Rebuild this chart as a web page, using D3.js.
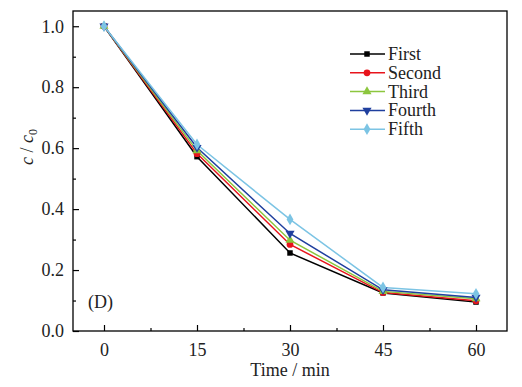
<!DOCTYPE html>
<html><head><meta charset="utf-8">
<script src="https://cdn.jsdelivr.net/npm/d3@7"></script>
<style>body{margin:0;background:#fff}svg text{font-family:"Liberation Serif","Times New Roman",serif}</style>
</head><body><svg id="c" width="522" height="387"></svg>
<script>
const times = [0, 15, 30, 45, 60];
const seriesNames = ["First", "Second", "Third", "Fourth", "Fifth"];
const first  = [1.0, 0.572, 0.256, 0.125, 0.095];
const second = [1.0, 0.582, 0.284, 0.126, 0.099];
const third  = [1.0, 0.592, 0.298, 0.130, 0.106];
const fourth = [1.0, 0.602, 0.320, 0.135, 0.110];
const fifth  = [1.0, 0.612, 0.366, 0.143, 0.122];
const colors = ["#000000", "#e8141c", "#8cc63e", "#1f3f9e", "#7cc4e4"];
const symbolsList = [d3.symbolSquare, d3.symbolCircle, d3.symbolTriangle, "tri-down", d3.symbolDiamond];
const xTicks = [0, 15, 30, 45, 60];
const yTicks = [0, 0.2, 0.4, 0.6, 0.8, 1.0];

const allSeries = [first, second, third, fourth, fifth];
const svg = d3.select("#c");
const L = 73, R = 507, T = 11, B = 331;
const x = d3.scaleLinear().domain([-5, 65]).range([L, R]);
const y = d3.scaleLinear().domain([0, 1.05]).range([B, T]);

svg.append("rect").attr("x", L).attr("y", T).attr("width", R - L).attr("height", B - T)
  .attr("fill", "none").attr("stroke", "#000").attr("stroke-width", 1.3);

svg.append("g").attr("transform", `translate(0,${B})`)
  .call(d3.axisBottom(x).tickValues(xTicks).tickSize(-6).tickPadding(12).tickFormat(d3.format("d")));
svg.append("g").attr("transform", `translate(0,${B})`)
  .call(d3.axisBottom(x).tickValues([7.5, 22.5, 37.5, 52.5]).tickSize(-3).tickFormat(""));
svg.append("g").attr("transform", `translate(${L},0)`)
  .call(d3.axisLeft(y).tickValues(yTicks).tickSize(-6).tickPadding(9).tickFormat(d3.format(".1f")));
svg.append("g").attr("transform", `translate(${L},0)`)
  .call(d3.axisLeft(y).tickValues([0.1, 0.3, 0.5, 0.7, 0.9]).tickSize(-3).tickFormat(""));
svg.selectAll(".domain").remove();
svg.selectAll(".tick line").attr("stroke", "#000").attr("stroke-width", 1.2);
svg.selectAll(".tick text").attr("font-size", 18).attr("fill", "#222")
  .style("font-family", '"Liberation Serif", serif');

svg.append("text").attr("x", (x(0) + x(60)) / 2).attr("y", 376).attr("text-anchor", "middle")
  .attr("font-size", 18).attr("fill", "#222").text("Time / min");
const yl = svg.append("text").attr("transform", `translate(33,147) rotate(-90)`)
  .attr("text-anchor", "middle").attr("font-size", 18).attr("fill", "#222");
yl.append("tspan").attr("font-style", "italic").text("c");
yl.append("tspan").text(" / ");
yl.append("tspan").attr("font-style", "italic").text("c");
yl.append("tspan").attr("font-size", 12).attr("dy", 4).text("0");

svg.append("text").attr("x", 88).attr("y", 308).attr("font-size", 18).attr("fill", "#222").text("(D)");

function sym(type, size) {
  if (type === "tri-down") return d3.symbol().type(d3.symbolTriangle).size(size)();
  return d3.symbol().type(type).size(size)();
}
const sizes = [30, 36, 36, 36, 40];

const line = d3.line().x((d, i) => x(times[i])).y(d => y(d));
allSeries.forEach((s, k) => {
  svg.append("path").datum(s).attr("d", line).attr("fill", "none")
    .attr("stroke", colors[k]).attr("stroke-width", 1.5);
});
allSeries.forEach((s, k) => {
  svg.append("g").selectAll("path").data(s).join("path")
    .attr("d", sym(symbolsList[k], sizes[k]))
    .attr("transform", (d, i) => `translate(${x(times[i])},${y(d)})` + (symbolsList[k] === "tri-down" ? " rotate(180)" : ""))
    .attr("fill", colors[k]);
});

const lg = svg.append("g");
seriesNames.forEach((n, k) => {
  const yy = 54 + k * 18.8;
  lg.append("line").attr("x1", 350).attr("x2", 385).attr("y1", yy).attr("y2", yy)
    .attr("stroke", colors[k]).attr("stroke-width", 1.5);
  lg.append("path").attr("d", sym(symbolsList[k], sizes[k]))
    .attr("transform", `translate(367,${yy})` + (symbolsList[k] === "tri-down" ? " rotate(180)" : ""))
    .attr("fill", colors[k]);
  lg.append("text").attr("x", 388).attr("y", yy + 6).attr("font-size", 18).attr("fill", "#222").text(n);
});
</script></body></html>
